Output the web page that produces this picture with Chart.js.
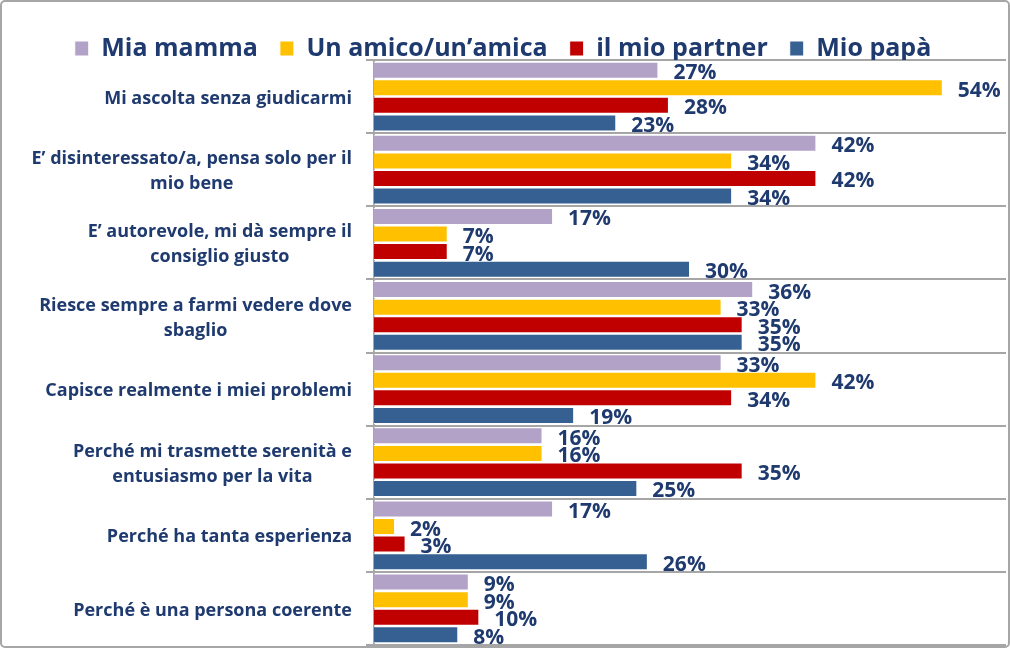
<!DOCTYPE html>
<html>
<head>
<meta charset="utf-8">
<script src="https://cdn.jsdelivr.net/npm/chart.js@4"></script>
<style>
  html, body { margin: 0; padding: 0; background: #fff; }
  #wrap { width: 1010px; height: 648px; }
</style>
</head>
<body>
<div id="wrap"><canvas id="chart" width="1010" height="648"></canvas></div>
<script>
// Data
const categories = [
  "Mi ascolta senza giudicarmi",
  ["E\u2019 disinteressato/a, pensa solo per il", "mio bene"],
  ["E\u2019 autorevole, mi d\u00e0 sempre il", "consiglio giusto"],
  ["Riesce sempre a farmi vedere dove", "sbaglio"],
  "Capisce realmente i miei problemi",
  ["Perch\u00e9 mi trasmette serenit\u00e0 e", "entusiasmo per la vita"],
  "Perch\u00e9 ha tanta esperienza",
  "Perch\u00e9 \u00e8 una persona coerente"
];
const seriesNames = ["Mia mamma", "Un amico/un\u2019amica", "il mio partner", "Mio pap\u00e0"];
const mamma = [27, 42, 17, 36, 33, 16, 17, 9];
const amico = [54, 34, 7, 33, 42, 16, 2, 9];
const partner = [28, 42, 7, 35, 34, 35, 3, 10];
const papa = [23, 34, 30, 35, 19, 25, 26, 8];

const colors = ["#B3A2C7", "#FFC000", "#C00000", "#376092"];
const navy = "#1F3A6E";
const gridGray = "#A6A6A6";

// Legend sits in a fixed band above the plot
const legendBand = {
  id: "legendBand",
  beforeInit(chart) {
    const fit = chart.legend.fit;
    chart.legend.fit = function () {
      fit.bind(chart.legend)();
      this.height = 46;
    };
  }
};

// Category labels: block right-aligned, lines centered inside it
const yLabels = {
  id: "yLabels",
  afterDraw(chart) {
    const ctx = chart.ctx;
    const y = chart.scales.y;
    ctx.save();
    ctx.font = "bold 18px 'Open Sans'";
    ctx.fillStyle = navy;
    ctx.textAlign = "center";
    ctx.textBaseline = "middle";
    categories.forEach((label, i) => {
      const lines = Array.isArray(label) ? label : [label];
      const w = Math.max(...lines.map(l => ctx.measureText(l).width));
      const cx = 352 - w / 2;
      const cy = y.getPixelForValue(i);
      const lh = 25;
      lines.forEach((l, k) => {
        ctx.fillText(l, cx, cy + (k - (lines.length - 1) / 2) * lh + 2);
      });
    });
    ctx.restore();
  }
};

// Value labels to the right of each bar
const valueLabels = {
  id: "valueLabels",
  afterDatasetsDraw(chart) {
    const ctx = chart.ctx;
    ctx.save();
    ctx.font = "bold 21px 'Open Sans'";
    ctx.fillStyle = navy;
    ctx.textAlign = "left";
    ctx.textBaseline = "middle";
    chart.data.datasets.forEach((ds, di) => {
      chart.getDatasetMeta(di).data.forEach((bar, i) => {
        ctx.fillText(ds.data[i] + "%", bar.x + 15, bar.y + 3);
      });
    });
    ctx.restore();
  }
};

// Outer frame
const frame = {
  id: "frame",
  afterDraw(chart) {
    const ctx = chart.ctx;
    ctx.save();
    ctx.strokeStyle = gridGray;
    ctx.lineWidth = 2;
    ctx.beginPath();
    ctx.roundRect(1, 1, chart.width - 2, chart.height - 2, 4);
    ctx.stroke();
    ctx.restore();
  }
};

const ctx = document.getElementById("chart").getContext("2d");
new Chart(ctx, {
  type: "bar",
  data: {
    labels: categories,
    datasets: [mamma, amico, partner, papa].map((d, i) => ({
      label: seriesNames[i],
      data: d,
      backgroundColor: colors[i],
      borderColor: "#FFFFFF",
      borderWidth: 1,
      categoryPercentage: 0.96,
      barPercentage: 0.97
    }))
  },
  options: {
    indexAxis: "y",
    responsive: false,
    animation: false,
    layout: { padding: { top: 14, right: 4, bottom: 3, left: 0 } },
    scales: {
      x: {
        display: false,
        min: 0,
        max: 60
      },
      y: {
        afterFit(scale) { scale.width = 374; },
        ticks: { display: false },
        grid: {
          offset: true,
          color: gridGray,
          lineWidth: 2,
          drawTicks: true,
          tickLength: 8
        },
        border: { display: true, color: gridGray, width: 2 }
      }
    },
    plugins: {
      tooltip: { enabled: false },
      legend: {
        position: "top",
        labels: {
          font: { family: "'Open Sans'", size: 25, weight: "bold" },
          color: navy,
          boxWidth: 14,
          boxHeight: 15,
          padding: 22
        }
      }
    }
  },
  plugins: [legendBand, valueLabels, yLabels, frame]
});
</script>
</body>
</html>
